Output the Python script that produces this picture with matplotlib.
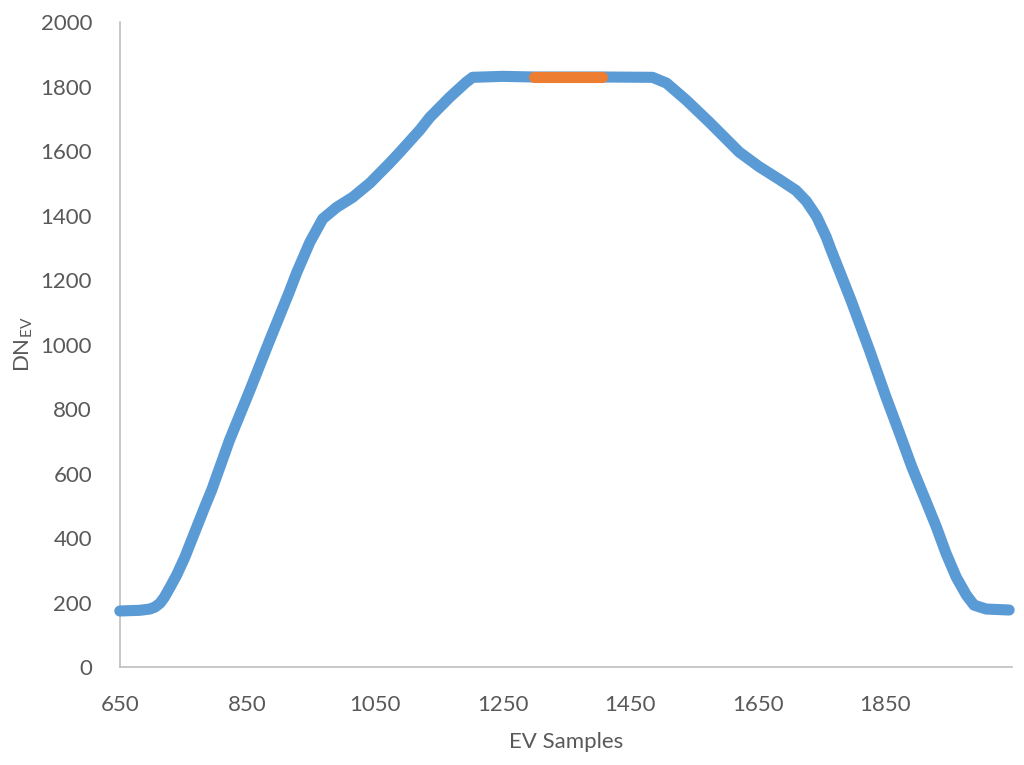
import numpy as np
import matplotlib
matplotlib.use('Agg')
import matplotlib.pyplot as plt

# values
ev_samples = [650, 681, 697, 705, 713, 720, 728, 739, 752, 767, 783, 794, 822,
              854, 885, 916, 927, 948, 968, 990, 1015, 1042, 1073, 1089, 1120,
              1136, 1167, 1193, 1203, 1250, 1300, 1406, 1485, 1507, 1538, 1574,
              1621, 1652, 1684, 1710, 1726, 1742, 1757, 1765, 1796, 1825, 1851,
              1872, 1892, 1914, 1930, 1945, 1961, 1977, 1989, 2008, 2044]
dn_ev = [174, 176, 180, 186, 198, 217, 245, 285, 341, 416, 496, 549, 704,
         859, 1014, 1165, 1222, 1318, 1390, 1426, 1457, 1501, 1563, 1597, 1665,
         1705, 1767, 1814, 1829, 1832, 1830, 1830, 1829, 1811, 1758, 1690,
         1597, 1552, 1512, 1478, 1445, 1398, 1335, 1293, 1138, 983, 837,
         726, 618, 512, 434, 353, 279, 223, 192, 180, 177]
plateau_x = [1300, 1406]
plateau_y = [1831, 1831]

x_ticks = [650, 850, 1050, 1250, 1450, 1650, 1850]
y_ticks = np.arange(0, 2001, 200)

plt.rcParams['font.family'] = ['Lato', 'DejaVu Sans']
fig = plt.figure(figsize=(10.24, 7.65), dpi=100)
ax = fig.add_axes([0.117, 0.128, 0.871, 0.843])

ax.plot(ev_samples, dn_ev, color='#5B9BD5', lw=8, solid_capstyle='round',
        solid_joinstyle='round', zorder=3, clip_on=False)
ax.plot(plateau_x, plateau_y, color='#ED7D31', lw=8, solid_capstyle='round', zorder=4)

ax.set_xlim(650, 2048)
ax.set_ylim(0, 2000)
ax.set_xticks(x_ticks)
ax.set_yticks(y_ticks)
ax.tick_params(length=0, labelsize=16, labelcolor='#595959', pad=20)
for s in ['top', 'right']:
    ax.spines[s].set_visible(False)
for s in ['left', 'bottom']:
    ax.spines[s].set_color('#BFBFBF')
    ax.spines[s].set_linewidth(1.2)

ax.set_xlabel('EV Samples', fontsize=16, color='#595959', labelpad=12)
ax.set_ylabel(r'DN$_{\mathregular{EV}}$', fontsize=16, color='#595959', labelpad=4)

fig.savefig('out.png', dpi=100)
